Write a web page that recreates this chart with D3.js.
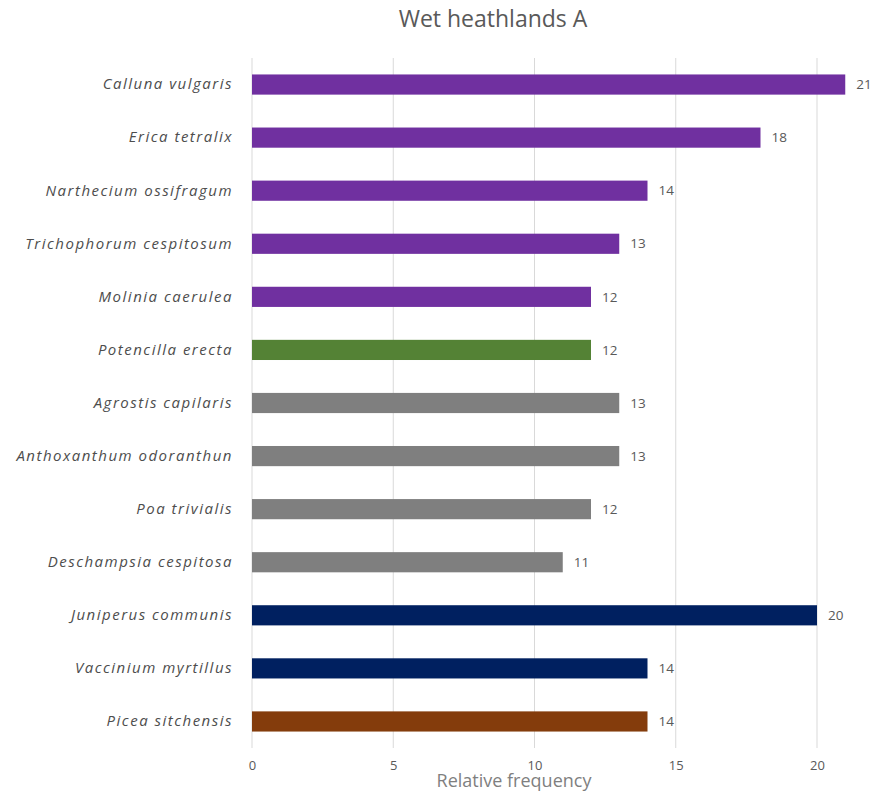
<html>
  <head>
    <script src="https://d3js.org/d3.v7.min.js"></script>
    <style>
      body { margin: 0; background: #fff; }
      text { font-family: "Open Sans", sans-serif; }
    </style>
  </head>

  <body>
    <svg id="vis"></svg>
  </body>

  <script>
    // Data
    var species = ["Calluna vulgaris", "Erica tetralix", "Narthecium ossifragum", "Trichophorum cespitosum",
      "Molinia caerulea", "Potencilla erecta", "Agrostis capilaris", "Anthoxanthum odoranthun",
      "Poa trivialis", "Deschampsia cespitosa", "Juniperus communis", "Vaccinium myrtillus", "Picea sitchensis"]
    var frequency = [21, 18, 14, 13, 12, 12, 13, 13, 12, 11, 20, 14, 14]
    var groups = ["heath", "heath", "heath", "heath", "heath", "herb", "grass", "grass", "grass", "grass", "shrub", "shrub", "tree"]
    var groupColours = {heath: "#7030a0", herb: "#548235", grass: "#7f7f7f", shrub: "#002060", tree: "#843c0c"}
    var ticks = [0, 5, 10, 15, 20]

    var width = 873, height = 794
    var svg = d3.select("svg").attr("width", width).attr("height", height)

    // Scales
    var x = d3.scaleLinear().domain([0, 20]).range([252, 817])
    var y = d3.scaleBand().domain(species).range([58, 748]).paddingInner(0.62).paddingOuter(0.31)

    // Title
    svg.append("text")
      .attr("x", 493).attr("y", 27)
      .attr("text-anchor", "middle")
      .style("font-size", "23px").style("fill", "#595959")
      .text("Wet heathlands A")

    // Gridlines
    svg.append("g").selectAll("line").data(ticks).join("line")
      .attr("x1", d => x(d)).attr("x2", d => x(d))
      .attr("y1", 58).attr("y2", 748)
      .attr("stroke", "#d9d9d9").attr("stroke-width", 1)

    // Bars
    svg.append("g").selectAll("rect").data(species).join("rect")
      .attr("x", x(0))
      .attr("y", d => y(d))
      .attr("width", (d, i) => x(frequency[i]) - x(0))
      .attr("height", y.bandwidth())
      .attr("fill", (d, i) => groupColours[groups[i]])

    // Value labels
    svg.append("g").selectAll("text").data(species).join("text")
      .attr("x", (d, i) => x(frequency[i]) + 11)
      .attr("y", d => y(d) + y.bandwidth() / 2)
      .attr("dy", "0.35em")
      .style("font-size", "13.5px").style("fill", "#595959")
      .text((d, i) => frequency[i])

    // Category labels
    svg.append("g")
      .attr("transform", "translate(" + x(0) + ",0)")
      .call(d3.axisLeft(y).tickSize(0).tickPadding(19))
      .call(g => g.select(".domain").remove())
      .selectAll("text")
      .style("font-family", "'Open Sans', sans-serif")
      .style("font-size", "15px").style("font-style", "italic")
      .style("letter-spacing", "1.5px").style("fill", "#4d4d4d")

    // x axis tick labels
    svg.append("g")
      .attr("transform", "translate(0,748)")
      .call(d3.axisBottom(x).tickValues(ticks).tickSize(0).tickPadding(13))
      .call(g => g.select(".domain").remove())
      .selectAll("text")
      .style("font-family", "'Open Sans', sans-serif")
      .style("font-size", "13px").style("fill", "#595959")

    // Axis title
    svg.append("text")
      .attr("x", 514).attr("y", 787)
      .attr("text-anchor", "middle")
      .style("font-size", "18px").style("fill", "#7f7f7f")
      .text("Relative frequency")
  </script>
</html>
